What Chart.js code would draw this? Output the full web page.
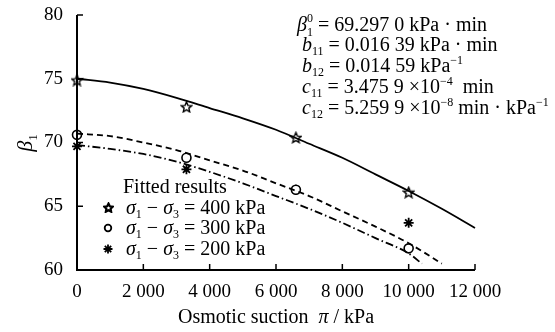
<!DOCTYPE html>
<html lang="en">
<head>
<meta charset="UTF-8">
<title>beta1 vs osmotic suction</title>
<script src="https://cdn.jsdelivr.net/npm/chart.js"></script>
<style>
  html, body { margin: 0; padding: 0; background: #fff; }
  #wrap { width: 555px; height: 332px; }
</style>
</head>
<body>
<div id="wrap"><canvas id="chart" width="555" height="332"></canvas></div>
<script>
// measured points
const suction = [0, 3300, 6600, 10000];
const beta400 = [74.9, 72.8, 70.4, 66.1];
const beta300 = [70.6, 68.8, 66.3, 61.7];
const beta200 = [69.7, 67.9, 66.3, 63.7];

// fitted curves
const fitX400 = [0, 1000, 2000, 3000, 4000, 5000, 6000, 7000, 8000, 9000, 10000, 11000, 12000];
const fitY400 = [75.0, 74.7, 74.2, 73.5, 72.7, 71.9, 71.0, 69.9, 68.8, 67.5, 66.2, 64.8, 63.3];
const fitX300 = [0, 1000, 2000, 3000, 4000, 5000, 6000, 7000, 8000, 9000, 10000, 11000];
const fitY300 = [70.7, 70.5, 70.0, 69.4, 68.6, 67.8, 66.8, 65.8, 64.6, 63.4, 62.1, 60.5];
const fitX200 = [0, 1000, 2000, 3000, 4000, 5000, 6000, 7000, 8000, 9000, 10000, 10400];
const fitY200 = [69.8, 69.5, 69.1, 68.5, 67.7, 66.8, 65.8, 64.8, 63.7, 62.5, 61.3, 60.5];

const xTicks = [0, 2000, 4000, 6000, 8000, 10000, 12000];
const yTicks = [60, 65, 70, 75, 80];

const SERIF = '"Liberation Serif", "DejaVu Serif", serif';

function pts(xs, ys) { return xs.map((x, i) => ({ x: x, y: ys[i] })); }

// five-point outlined star marker
function makeStar(size, lw, inner) {
    const c = document.createElement('canvas');
    c.width = size; c.height = size;
    const g = c.getContext('2d');
    const m = size / 2, R = size / 2 - 1;
    g.beginPath();
    for (let i = 0; i < 10; i++) {
        const r = i % 2 === 0 ? R : R * inner;
        const a = -Math.PI / 2 + i * Math.PI / 5;
        const px = m + r * Math.cos(a), py = m + 0.6 + r * Math.sin(a);
        if (i === 0) g.moveTo(px, py); else g.lineTo(px, py);
    }
    g.closePath();
    g.fillStyle = '#fff';
    g.fill();
    g.lineWidth = lw;
    g.strokeStyle = '#000';
    g.stroke();
    return c;
}
const starImg = makeStar(13, 1.4, 0.45);
const legendStar = makeStar(11, 2.2, 0.5);

function fmt(v) {
    return String(v).replace(/\B(?=(\d{3})+(?!\d))/g, ' ');
}

// draw text pieces: [text, kind] kind: n normal, i italic, sub, sup
function drawRich(ctx, x, y, parts, size) {
    ctx.textBaseline = 'alphabetic';
    ctx.textAlign = 'left';
    let cx = x;
    parts.forEach(p => {
        const t = p[0], k = p[1] || 'n';
        let f = size + 'px ' + SERIF, dy = 0;
        if (k === 'i') f = 'italic ' + size + 'px ' + SERIF;
        if (k === 'sub') { f = Math.round(size * 0.6) + 'px ' + SERIF; dy = size * 0.22; }
        if (k === 'sup') { f = Math.round(size * 0.6) + 'px ' + SERIF; dy = -size * 0.42; }
        ctx.font = f;
        ctx.fillText(t, cx, y + dy);
        cx += ctx.measureText(t).width;
    });
    return cx;
}

function richWidth(ctx, parts, size) {
    ctx.save();
    ctx.globalAlpha = 0;
    const w = drawRich(ctx, 0, -100, parts, size);
    ctx.restore();
    return w;
}

const decorations = {
    id: 'decorations',
    afterDraw(chart) {
        const ctx = chart.ctx;
        const xs = chart.scales.x, ys = chart.scales.y;
        const a = chart.chartArea;
        ctx.save();
        ctx.fillStyle = '#000';
        ctx.strokeStyle = '#000';

        // axes
        ctx.lineWidth = 2;
        ctx.beginPath();
        ctx.moveTo(a.left, a.top);
        ctx.lineTo(a.left, a.bottom);
        ctx.lineTo(a.right, a.bottom);
        ctx.stroke();
        // inward ticks
        ctx.lineWidth = 1.5;
        xTicks.forEach(v => {
            const px = xs.getPixelForValue(v);
            ctx.beginPath(); ctx.moveTo(px, a.bottom); ctx.lineTo(px, a.bottom - 6); ctx.stroke();
        });
        yTicks.forEach(v => {
            const py = ys.getPixelForValue(v);
            ctx.beginPath(); ctx.moveTo(a.left, py); ctx.lineTo(a.left + 6, py); ctx.stroke();
        });

        // axis titles
        const xt = [['Osmotic suction  '], ['π', 'i'], [' / kPa']];
        drawRich(ctx, 178, 323, xt, 20);

        ctx.save();
        ctx.translate(32, 143);
        ctx.rotate(-Math.PI / 2);
        const yt = [['β', 'i'], ['1', 'sub']];
        drawRich(ctx, -richWidth(ctx, yt, 22) / 2, 0, yt, 22);
        ctx.restore();

        // fitted parameters
        let ex = drawRich(ctx, 297, 31, [['β', 'i']], 20);
        ctx.font = '12px ' + SERIF;
        ctx.fillText('0', ex, 22);
        ctx.fillText('1', ex, 36);
        drawRich(ctx, ex + 6, 31, [[' = 69.297 0 kPa · min']], 20);
        drawRich(ctx, 302, 51, [['b', 'i'], ['11', 'sub'], [' = 0.016 39 kPa · min']], 20);
        drawRich(ctx, 302, 72, [['b', 'i'], ['12', 'sub'], [' = 0.014 59 kPa'], ['−1', 'sup']], 20);
        drawRich(ctx, 302, 93, [['c', 'i'], ['11', 'sub'], [' = 3.475 9 ×10'], ['−4', 'sup'], ['  min']], 20);
        drawRich(ctx, 302, 114, [['c', 'i'], ['12', 'sub'], [' = 5.259 9 ×10'], ['−8', 'sup'], [' min · kPa'], ['−1', 'sup']], 20);

        // legend
        drawRich(ctx, 123, 193, [['Fitted results']], 20);
        const labels = ['400', '300', '200'];
        const ly = [208, 228, 249];
        labels.forEach((lab, i) => {
            const cy = ly[i];
            if (i === 0) ctx.drawImage(legendStar, 103, cy - 6);
            if (i === 1) {
                ctx.lineWidth = 1.8;
                ctx.beginPath(); ctx.arc(108, cy, 3.3, 0, Math.PI * 2); ctx.stroke();
            }
            if (i === 2) {
                ctx.lineWidth = 1.8;
                ctx.beginPath();
                for (let k = 0; k < 4; k++) {
                    const ang = k * Math.PI / 4;
                    ctx.moveTo(108 - 4.5 * Math.cos(ang), cy - 4.5 * Math.sin(ang));
                    ctx.lineTo(108 + 4.5 * Math.cos(ang), cy + 4.5 * Math.sin(ang));
                }
                ctx.stroke();
            }
            drawRich(ctx, 126, cy + 6, [['σ', 'i'], ['1', 'sub'], [' − '], ['σ', 'i'], ['3', 'sub'], [' = ' + lab + ' kPa']], 20);
        });
        ctx.restore();
    }
};

const lineStyle = { borderColor: '#000', borderWidth: 1.8, pointRadius: 0, fill: false, tension: 0.4, cubicInterpolationMode: 'monotone' };

new Chart(document.getElementById('chart'), {
    type: 'scatter',
    data: {
        datasets: [
            Object.assign({ type: 'line', label: 'fit 400', data: pts(fitX400, fitY400) }, lineStyle),
            Object.assign({ type: 'line', label: 'fit 300', data: pts(fitX300, fitY300), borderDash: [6, 4] }, lineStyle),
            Object.assign({ type: 'line', label: 'fit 200', data: pts(fitX200, fitY200), borderDash: [8, 3, 1.5, 3] }, lineStyle),
            { label: '400 kPa', data: pts(suction, beta400), pointStyle: starImg, pointRadius: 6 },
            { label: '300 kPa', data: pts(suction, beta300), pointStyle: 'circle', pointRadius: 4.5, backgroundColor: '#fff', borderColor: '#000', borderWidth: 1.6 },
            { label: '200 kPa', data: pts(suction, beta200), pointStyle: 'star', pointRadius: 5, backgroundColor: '#000', borderColor: '#000', borderWidth: 1.8 }
        ]
    },
    options: {
        responsive: false,
        animation: false,
        clip: false,
        layout: { padding: { left: 0, right: 80, top: 15, bottom: 0 } },
        plugins: { legend: { display: false }, tooltip: { enabled: false } },
        scales: {
            x: {
                type: 'linear', min: 0, max: 12000,
                afterFit: s => { s.height = 62; s.paddingLeft = 0; s.paddingRight = 0; },
                afterBuildTicks: s => { s.ticks = xTicks.map(v => ({ value: v })); },
                grid: { display: false, drawTicks: false },
                border: { display: false },
                ticks: { color: '#000', padding: 11, maxRotation: 0, font: { family: SERIF, size: 19 }, callback: v => fmt(v) }
            },
            y: {
                min: 60, max: 80,
                afterFit: s => { s.width = 77; s.paddingTop = 0; s.paddingBottom = 0; },
                afterBuildTicks: s => { s.ticks = yTicks.map(v => ({ value: v })); },
                grid: { display: false, drawTicks: false },
                border: { display: false },
                ticks: { color: '#000', padding: 14, font: { family: SERIF, size: 19 } }
            }
        }
    },
    plugins: [decorations]
});
</script>
</body>
</html>
